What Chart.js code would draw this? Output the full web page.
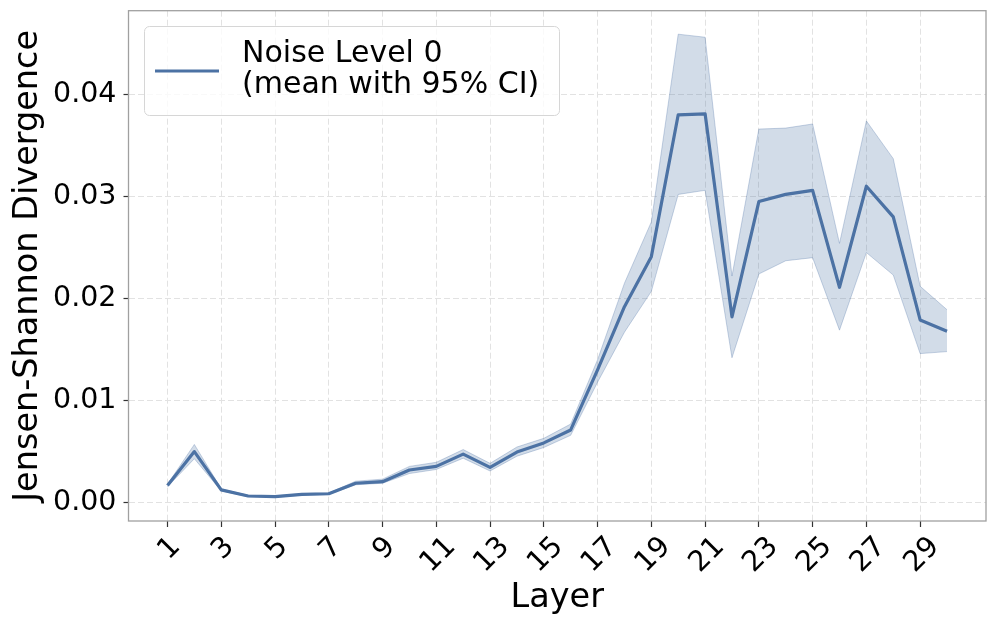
<!DOCTYPE html>
<html>
<head>
<meta charset="utf-8">
<script src="https://cdn.jsdelivr.net/npm/chart.js@4.4.1/dist/chart.umd.min.js"></script>
<style>
  html, body { margin: 0; padding: 0; background: #fff; }
  #wrap { width: 997px; height: 626px; position: relative; }
</style>
</head>
<body>
<div id="wrap"><canvas id="chart"></canvas></div>
<script>
'use strict';

// DATA
let layers = [1, 2, 3, 4, 5, 6, 7, 8, 9, 10, 11, 12, 13, 14, 15, 16, 17, 18, 19, 20, 21, 22, 23, 24, 25, 26, 27, 28, 29, 30];
let meanJS = [0.00169, 0.0050, 0.00125, 0.00065, 0.00058, 0.00080, 0.00087, 0.00190, 0.00205, 0.00320,
  0.00355, 0.00475, 0.00345, 0.00495, 0.00585, 0.00712, 0.0130, 0.0192, 0.0241, 0.0380,
  0.0381, 0.0182, 0.0295, 0.0302, 0.0306, 0.0211, 0.0310, 0.0280, 0.0179, 0.0168];
let lowerCI = [0.00155, 0.0043, 0.00115, 0.00058, 0.00052, 0.00073, 0.00080, 0.00175, 0.00190, 0.00285,
  0.00325, 0.00435, 0.00310, 0.00455, 0.00540, 0.00660, 0.0118, 0.0167, 0.0207, 0.0302,
  0.0306, 0.0142, 0.0224, 0.0237, 0.0240, 0.0169, 0.0245, 0.0223, 0.0146, 0.0148];
let upperCI = [0.00180, 0.0057, 0.00135, 0.00072, 0.00065, 0.00088, 0.00095, 0.00210, 0.00230, 0.00355,
  0.00395, 0.00520, 0.00385, 0.00545, 0.00630, 0.00770, 0.0140, 0.0215, 0.0275, 0.0459,
  0.0456, 0.0222, 0.0366, 0.0367, 0.0371, 0.0254, 0.0374, 0.0337, 0.0212, 0.0189];
let xTickValues = [1, 3, 5, 7, 9, 11, 13, 15, 17, 19, 21, 23, 25, 27, 29];
let yTickValues = [0, 0.01, 0.02, 0.03, 0.04];
let legendLines = ['Noise Level 0', '(mean with 95% CI)'];

// STYLE
const FONT = "'DejaVu Sans', sans-serif";
const lineColor = 'rgb(76, 114, 164)';
const bandFill = 'rgba(76, 114, 164, 0.25)';
const bandEdge = 'rgba(76, 114, 164, 0.3)';
const gridColor = '#e2e2e2';

Chart.defaults.font.family = FONT;
Chart.defaults.color = '#000';

function toPoints(values) {
  let pts = [];
  for (let i = 0; i < layers.length; i++) {
    pts.push({x: layers[i], y: values[i]});
  }
  return pts;
}

// PLUGINS
const framePlugin = {
  id: 'frame',
  afterDatasetsDraw(chart) {
    let a = chart.chartArea;
    let ctx = chart.ctx;
    ctx.save();
    ctx.strokeStyle = '#a0a0a0';
    ctx.lineWidth = 1.3;
    ctx.strokeRect(a.left, a.top, a.right - a.left, a.bottom - a.top);
    ctx.restore();
  }
};

// rotated labels centred under their ticks
const xLabelPlugin = {
  id: 'xLabels',
  afterDraw(chart) {
    let ctx = chart.ctx;
    let xs = chart.scales.x;
    let fs = 28.5;
    let top = chart.chartArea.bottom + 12;
    ctx.save();
    ctx.font = fs + 'px ' + FONT;
    ctx.fillStyle = '#000';
    ctx.textAlign = 'center';
    ctx.textBaseline = 'alphabetic';
    xs.ticks.forEach(t => {
      let txt = String(t.value);
      let w = ctx.measureText(txt).width;
      let h = 0.73 * fs;
      let px = xs.getPixelForValue(t.value);
      let cy = top + (w + h) / (2 * Math.SQRT2);
      ctx.save();
      ctx.translate(px, cy);
      ctx.rotate(-Math.PI / 4);
      ctx.fillText(txt, 0, 0.365 * fs);
      ctx.restore();
    });
    ctx.restore();
  }
};

const legendPlugin = {
  id: 'boxLegend',
  afterDraw(chart) {
    let ctx = chart.ctx;
    let x = 144, y = 26, w = 415, h = 89, r = 5;
    ctx.save();
    ctx.beginPath();
    ctx.roundRect(x + 0.5, y + 0.5, w, h, r);
    ctx.fillStyle = 'rgba(255,255,255,0.8)';
    ctx.fill();
    ctx.strokeStyle = '#d6d6d6';
    ctx.lineWidth = 1;
    ctx.stroke();

    ctx.beginPath();
    ctx.moveTo(155, 71);
    ctx.lineTo(219, 71);
    ctx.strokeStyle = lineColor;
    ctx.lineWidth = 3;
    ctx.stroke();

    ctx.font = '30px ' + FONT;
    ctx.fillStyle = '#000';
    ctx.textAlign = 'left';
    ctx.textBaseline = 'alphabetic';
    ctx.fillText(legendLines[0], 242, 62);
    ctx.fillText(legendLines[1], 242, 93);
    ctx.restore();
  }
};

function noPad(scale) {
  scale.paddingTop = 0;
  scale.paddingBottom = 0;
  scale.paddingLeft = 0;
  scale.paddingRight = 0;
}

// CHART
const ctx = document.getElementById('chart');
const myChart = new Chart(ctx, {
  type: 'line',
  data: {
    datasets: [
      {
        label: legendLines.join(' '),
        data: toPoints(meanJS),
        borderColor: lineColor,
        borderWidth: 3.2,
        pointRadius: 0,
        fill: false,
        tension: 0,
        borderJoinStyle: 'round',
        order: 0
      },
      {
        label: 'upper',
        data: toPoints(upperCI),
        borderColor: bandEdge,
        backgroundColor: bandFill,
        borderWidth: 1,
        pointRadius: 0,
        fill: '+1',
        tension: 0,
        order: 1
      },
      {
        label: 'lower',
        data: toPoints(lowerCI),
        borderColor: bandEdge,
        borderWidth: 1,
        pointRadius: 0,
        fill: false,
        tension: 0,
        order: 2
      }
    ]
  },
  options: {
    responsive: true,
    maintainAspectRatio: false,
    animation: false,
    layout: { padding: { left: 0, right: 11, top: 10.7, bottom: 0 } },
    plugins: {
      legend: { display: false },
      tooltip: { enabled: false }
    },
    scales: {
      x: {
        type: 'linear',
        min: -0.45,
        max: 31.45,
        afterBuildTicks: (scale) => {
          scale.ticks = xTickValues.map(v => ({value: v}));
        },
        afterFit: (scale) => { scale.height = 105; noPad(scale); },
        ticks: { display: false },
        border: { display: false, dash: [6, 3] },
        grid: {
          color: gridColor,
          lineWidth: 1,
          drawTicks: true,
          tickLength: 6,
          tickColor: '#333',
          tickWidth: 1.2,
          tickBorderDash: []
        },
        title: {
          display: true,
          text: 'Layer',
          font: { size: 33.5 },
          padding: { top: 0, bottom: 8 }
        }
      },
      y: {
        min: -0.0018,
        max: 0.0482,
        afterBuildTicks: (scale) => {
          scale.ticks = yTickValues.map(v => ({value: v}));
        },
        afterFit: (scale) => { scale.width = 128.5; noPad(scale); },
        ticks: {
          font: { size: 28.5 },
          padding: 7,
          callback: (v) => Number(v).toFixed(2)
        },
        border: { display: false, dash: [6, 3] },
        grid: {
          color: gridColor,
          lineWidth: 1,
          drawTicks: true,
          tickLength: 5,
          tickColor: '#333',
          tickWidth: 1.2,
          tickBorderDash: []
        },
        title: {
          display: true,
          text: 'Jensen-Shannon Divergence',
          font: { size: 33.5 },
          padding: { top: 8, bottom: 0 }
        }
      }
    }
  },
  plugins: [framePlugin, xLabelPlugin, legendPlugin]
});
</script>
</body>
</html>
